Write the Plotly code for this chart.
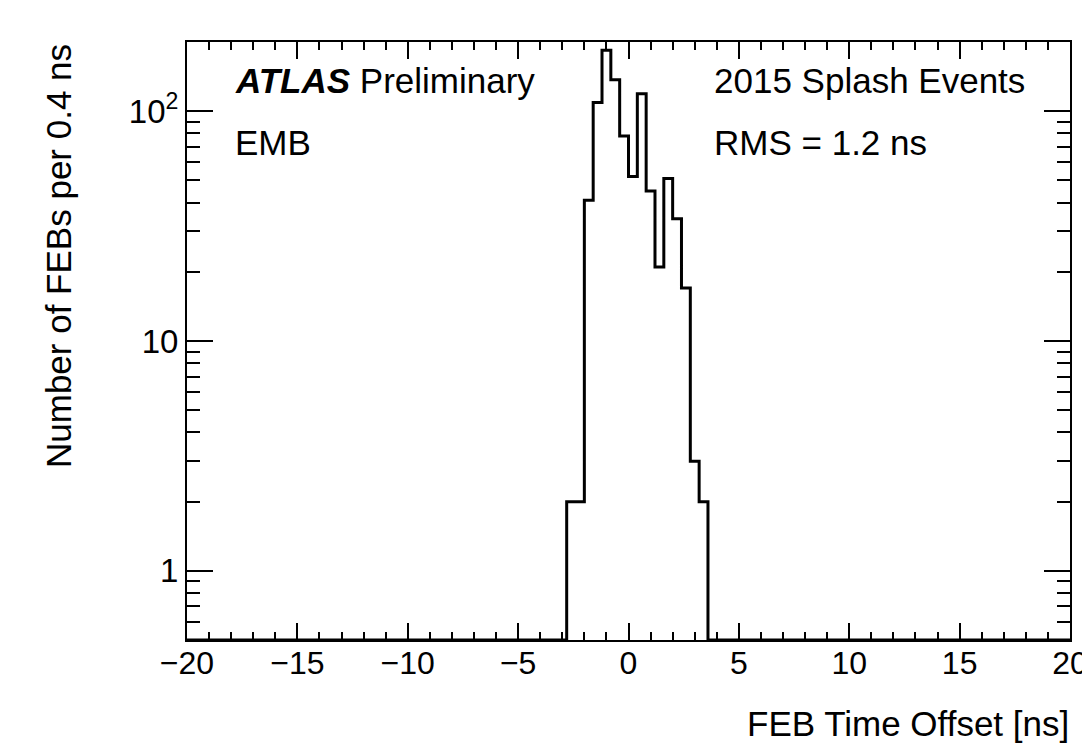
import math
import plotly.graph_objects as go

# ---- data ----
bin_low = -2.8
bin_width = 0.4
counts = [2, 2, 41, 109, 184, 137, 78, 52, 119, 45, 21, 51, 34, 17, 3, 2]

x_range = [-20, 20]
y_range = [0.5, 200]

x_tickvals = [-20, -15, -10, -5, 0, 5, 10, 15, 20]
x_ticktext = ["\u221220", "\u221215", "\u221210", "\u22125", "0", "5", "10", "15", "20"]
y_tickvals = [1, 10, 100]
y_ticktext = ["1", "10", "10<sup>2</sup>"]
y_minor = [0.6, 0.7, 0.8, 0.9, 2, 3, 4, 5, 6, 7, 8, 9, 20, 30, 40, 50, 60, 70, 80, 90, 200]

# ---- build step outline (zero bins drawn at the axis floor) ----
floor = y_range[0]
edges = [bin_low + i * bin_width for i in range(len(counts) + 1)]
xs = [x_range[0]] + edges[:-1] + [edges[-1], x_range[1]]
ys = [floor] + counts + [floor, floor]

FONT = "Liberation Sans, Arial, Helvetica, sans-serif"

fig = go.Figure()
fig.add_trace(go.Scatter(
    x=xs, y=ys, mode="lines", line=dict(shape="hv", color="black", width=3),
    hoverinfo="skip", showlegend=False,
))

L, R, T, B = 187, 12, 42, 109
W, H = 1082, 749
pw, ph = W - L - R, H - T - B

def px(xp):
    return (xp - L) / pw

def py(yp):
    return (H - B - yp) / ph

fig.update_layout(
    width=W, height=H,
    margin=dict(l=L, r=R, t=T, b=B, autoexpand=False),
    paper_bgcolor="white", plot_bgcolor="white",
    font=dict(family=FONT, color="black", size=33),
    showlegend=False,
)

fig.update_xaxes(
    range=x_range, showgrid=False, zeroline=False, automargin=False,
    showline=True, linecolor="black", linewidth=2, mirror="ticks",
    ticks="inside", ticklen=17, tickwidth=1.5, tickcolor="black",
    tickvals=x_tickvals, ticktext=x_ticktext,
    tickfont=dict(size=32, family=FONT),
    ticklabeloverflow="allow", ticklabelstandoff=-6,
    minor=dict(dtick=1, ticks="inside", ticklen=8, tickwidth=1.5, tickcolor="black", showgrid=False),
)
fig.update_yaxes(
    type="log", range=[math.log10(y_range[0]), math.log10(y_range[1])],
    showgrid=False, zeroline=False, automargin=False,
    showline=True, linecolor="black", linewidth=2, mirror="ticks",
    ticks="inside", ticklen=26, tickwidth=1.5, tickcolor="black",
    tickvals=y_tickvals, ticktext=y_ticktext,
    tickfont=dict(size=33, family=FONT),
    minor=dict(tickvals=y_minor, ticks="inside", ticklen=13, tickwidth=1.5, tickcolor="black", showgrid=False),
)

TS = 35
ann = [
    dict(text="<b><i>ATLAS</i></b> Preliminary", x=px(233), y=py(81)),
    dict(text="EMB", x=px(233), y=py(142)),
    dict(text="2015 Splash Events", x=px(712), y=py(81)),
    dict(text="RMS = 1.2 ns", x=px(712), y=py(142)),
]
for a in ann:
    fig.add_annotation(xref="paper", yref="paper", xanchor="left", yanchor="middle",
                       showarrow=False, font=dict(size=TS, family=FONT, color="black"), **a)

# axis titles
fig.add_annotation(text="FEB Time Offset [ns]", xref="paper", yref="paper",
                   x=px(1071), y=py(723), xanchor="right", yanchor="middle",
                   showarrow=False, font=dict(size=35, family=FONT, color="black"))
fig.add_annotation(text="Number of FEBs per 0.4 ns", xref="paper", yref="paper",
                   x=px(58), y=1.0, xanchor="center", yanchor="top", textangle=-90,
                   showarrow=False, font=dict(size=35, family=FONT, color="black"))

fig.write_html("out.html")
